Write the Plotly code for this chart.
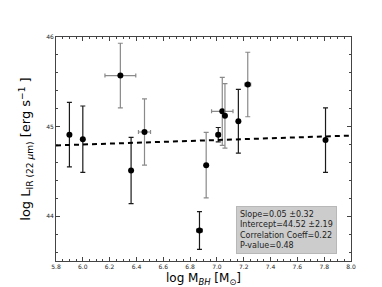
import plotly.graph_objects as go

# data
log_mbh = [5.90, 6.00, 6.28, 6.46, 6.36, 6.87, 6.92, 7.01, 7.04, 7.06, 7.16, 7.23, 7.81]
log_lir = [44.91, 44.86, 45.57, 44.94, 44.51, 43.84, 44.57, 44.91, 45.17, 45.12, 45.06, 45.47, 44.85]
lir_err = [0.36, 0.37, 0.36, 0.37, 0.37, 0.21, 0.365, 0.08, 0.38, 0.36, 0.355, 0.36, 0.36]
mbh_err = [0.0, 0.0, 0.115, 0.045, 0.0, 0.02, 0.0, 0.015, 0.08, 0.0, 0.0, 0.022, 0.0]
grey_bar = [False, False, True, True, False, False, True, False, True, True, False, True, False]

fit_x = [5.8, 8.0]
fit_y = [44.79, 44.90]

stats_text = ["Slope=0.05 \u00b10.32", "Intercept=44.52 \u00b12.19",
              "Correlation Coeff=0.22", "P-value=0.48"]

fig = go.Figure()

for i in range(len(log_mbh)):
    col = "#8a8a8a" if grey_bar[i] else "#1a1a1a"
    fig.add_trace(go.Scatter(
        x=[log_mbh[i]], y=[log_lir[i]], mode="markers",
        marker=dict(color="black", size=6),
        error_y=dict(type="data", array=[lir_err[i]], color=col, thickness=1.2, width=2.5),
        error_x=dict(type="data", array=[mbh_err[i]], color=col, thickness=1.2, width=2,
                     visible=mbh_err[i] > 0),
        showlegend=False, hoverinfo="skip"))

fig.add_trace(go.Scatter(x=fit_x, y=fit_y, mode="lines",
                         line=dict(color="black", width=2, dash="5px,4px"),
                         showlegend=False, hoverinfo="skip"))

axis_common = dict(showgrid=False, zeroline=False, showline=True, linecolor="#444",
                   linewidth=1, mirror="allticks", ticks="inside", ticklen=4,
                   tickcolor="#444", tickwidth=0.8,
                   tickfont=dict(family="DejaVu Sans", size=6, color="#222222"))

fig.update_xaxes(range=[5.8, 8.0], tickvals=[5.8, 6.0, 6.2, 6.4, 6.6, 6.8, 7.0, 7.2, 7.4, 7.6, 7.8, 8.0],
                 ticktext=["5.8", "6.0", "6.2", "6.4", "6.6", "6.8", "7.0", "7.2", "7.4", "7.6", "7.8", "8.0"],
                 minor=dict(dtick=0.05, tick0=5.8, ticks="inside", ticklen=2, tickcolor="#444"),
                 title=dict(text="log M<sub><i>BH</i></sub> [M<sub>\u2299</sub>]",
                            font=dict(family="DejaVu Sans", size=12, color="black"), standoff=4),
                 **axis_common)
fig.update_yaxes(range=[43.5, 46.0], tickvals=[44, 45, 46], ticktext=["44", "45", "46"],
                 minor=dict(dtick=0.2, tick0=43.6, ticks="inside", ticklen=2, tickcolor="#444"),
                 title=dict(text="log L<sub>IR (22 <i>\u03bc</i>m)</sub> [erg s<sup>\u22121</sup> ]",
                            font=dict(family="DejaVu Sans", size=13, color="black"), standoff=12),
                 **axis_common)

fig.add_annotation(x=0.61, y=0.03, xref="paper", yref="paper", xanchor="left", yanchor="bottom",
                   text="<br>".join(stats_text), showarrow=False, align="left",
                   font=dict(family="DejaVu Sans", size=8, color="#222222"),
                   bgcolor="#cccccc", bordercolor="#b8b8b8", borderwidth=1, borderpad=3)

fig.update_layout(width=382, height=287, margin=dict(l=48, r=39, t=29, b=29),
                  plot_bgcolor="white", paper_bgcolor="white")

fig.write_html("out.html")
